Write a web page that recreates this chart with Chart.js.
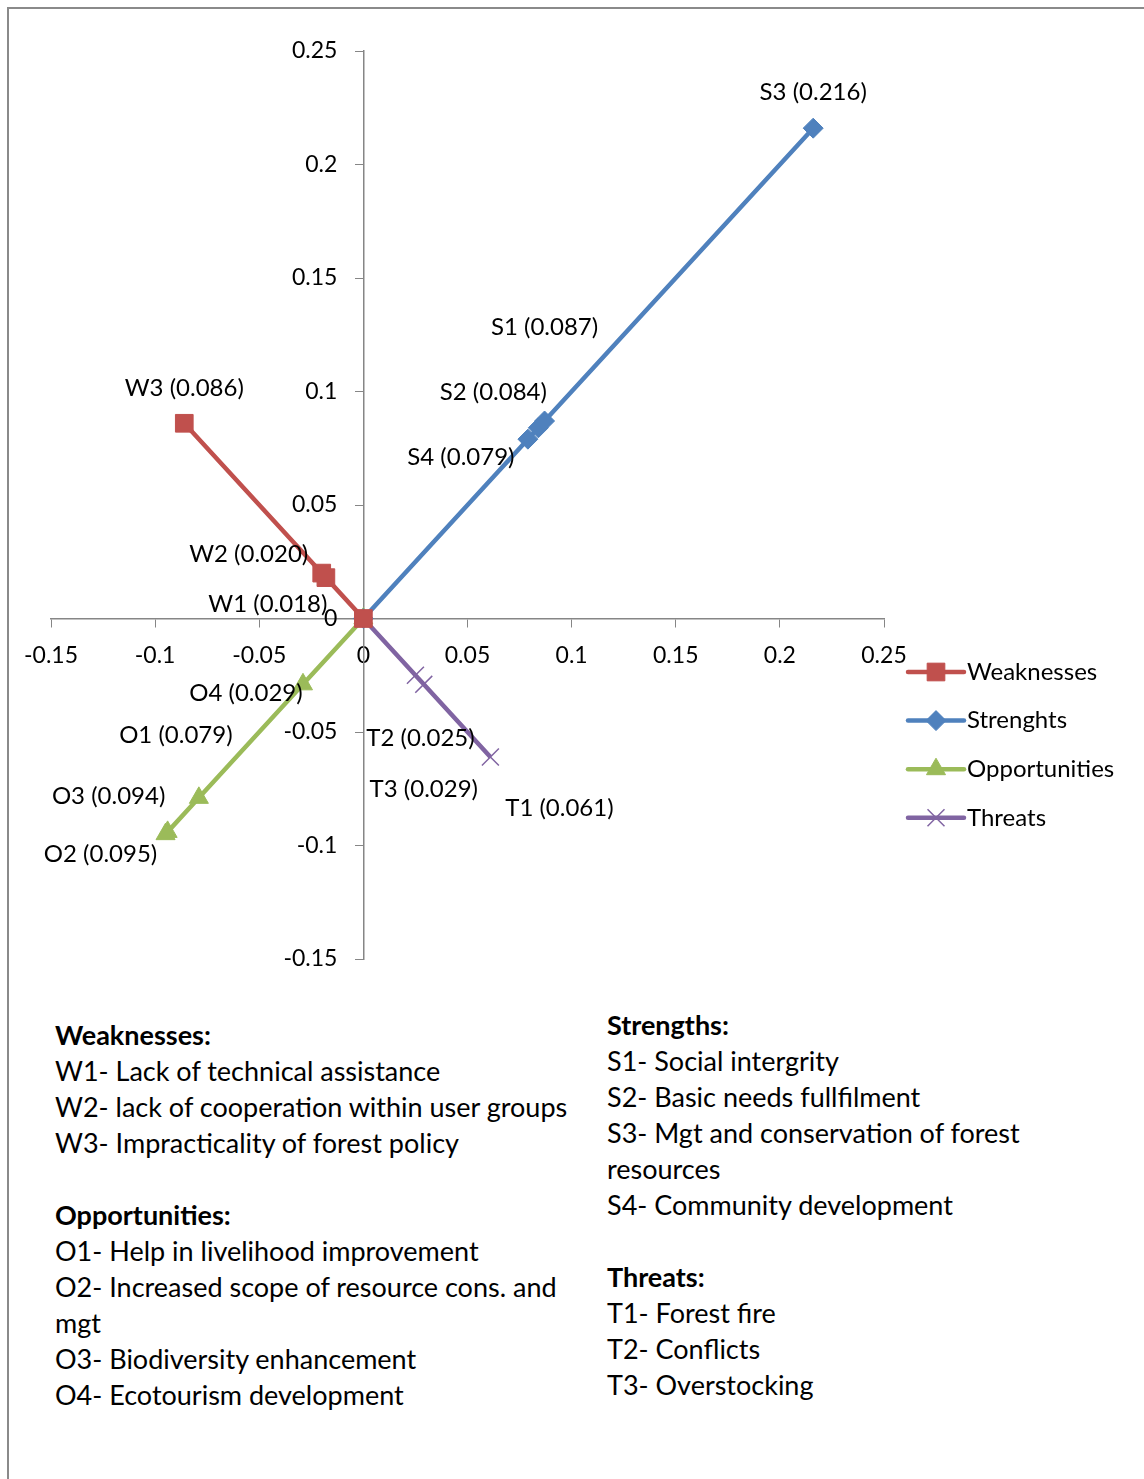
<!DOCTYPE html>
<html>
<head>
<meta charset="utf-8">
<script src="https://cdn.jsdelivr.net/npm/chart.js@4/dist/chart.umd.min.js"></script>
<style>
  html, body { margin: 0; padding: 0; background: #fff; }
  body { width: 1144px; height: 1479px; position: relative; overflow: hidden; font-family: Lato, "Open Sans", sans-serif; color: #000; }
  #frame { position: absolute; left: 7px; top: 7px; width: 1150px; height: 1480px; border-left: 2px solid #8a8a8a; border-top: 2px solid #8a8a8a; }
  #wrap { position: absolute; left: 0; top: 0; width: 1144px; height: 1000px; }
  .col { position: absolute; font-size: 27px; line-height: 36px; white-space: nowrap; }
  .col b { font-weight: bold; }
  .gap { height: 36px; }
</style>
</head>
<body>
<div id="frame"></div>
<div id="wrap"><canvas id="c" width="1144" height="1000"></canvas></div>

<div class="col" style="left:55px; top:1017px;">
  <b>Weaknesses:</b><br>
  W1- Lack of technical assistance<br>
  W2- lack of cooperation within user groups<br>
  W3- Impracticality of forest policy<br>
  <div class="gap"></div>
  <b>Opportunities:</b><br>
  O1- Help in livelihood improvement<br>
  O2- Increased scope of resource cons. and<br>
  mgt<br>
  O3- Biodiversity enhancement<br>
  O4- Ecotourism development
</div>

<div class="col" style="left:607px; top:1007px;">
  <b>Strengths:</b><br>
  S1- Social intergrity<br>
  S2- Basic needs fullfilment<br>
  S3- Mgt and conservation of forest<br>
  resources<br>
  S4- Community development<br>
  <div class="gap"></div>
  <b>Threats:</b><br>
  T1- Forest fire<br>
  T2- Conflicts<br>
  T3- Overstocking
</div>

<script>
// Factor scores per SWOT group (ordered outward from the origin)
const weaknessNames = ['W1', 'W2', 'W3'];
const weaknessValues = [0.018, 0.020, 0.086];

const strengthNames = ['S4', 'S2', 'S1', 'S3'];
const strengthValues = [0.079, 0.084, 0.087, 0.216];

const opportunityNames = ['O4', 'O1', 'O3', 'O2'];
const opportunityValues = [0.029, 0.079, 0.094, 0.095];

const threatNames = ['T2', 'T3', 'T1'];
const threatValues = [0.025, 0.029, 0.061];

const axisTicks = [-0.15, -0.1, -0.05, 0, 0.05, 0.1, 0.15, 0.2, 0.25];

// Label placement (pixel offsets from each marker)
const labelOffsets = {
  S3: [0, -36], S1: [0, -94], S2: [-45, -36], S4: [-67, 18],
  W3: [0, -35], W2: [-73, -19], W1: [-58, 27],
  O4: [-57, 9], O1: [-23, -63], O3: [-59, -36], O2: [-65, 20],
  T2: [5, 63], T3: [0, 105], T1: [69, 51]
};

// Each group sits in its own quadrant and starts at the origin
function buildSeries(names, values, sx, sy) {
  const pts = [{ x: 0, y: 0, name: null }];
  names.forEach((n, i) => pts.push({ x: sx * values[i], y: sy * values[i], name: n, v: values[i] }));
  return pts;
}

const FONT = 'Lato, "Open Sans", sans-serif';

const datasets = [
  { label: 'Weaknesses', data: buildSeries(weaknessNames, weaknessValues, -1, 1),
    borderColor: '#C0504D', backgroundColor: '#C0504D', pointStyle: 'rect', pointRadius: 12.5, pointBorderWidth: 1 },
  { label: 'Strenghts', data: buildSeries(strengthNames, strengthValues, 1, 1),
    borderColor: '#4F81BD', backgroundColor: '#4F81BD', pointStyle: 'rectRot', pointRadius: 10, pointBorderWidth: 1 },
  { label: 'Opportunities', data: buildSeries(opportunityNames, opportunityValues, -1, -1),
    borderColor: '#9BBB59', backgroundColor: '#9BBB59', pointStyle: 'triangle', pointRadius: 11, pointBorderWidth: 1 },
  { label: 'Threats', data: buildSeries(threatNames, threatValues, 1, -1),
    borderColor: '#8064A2', backgroundColor: '#8064A2', pointStyle: 'crossRot', pointRadius: 12, pointBorderWidth: 1.5 }
];
datasets.forEach(d => { d.showLine = true; d.borderWidth = 4.5; d.pointHoverRadius = d.pointRadius; });

// Value labels next to each marker
const valueLabels = {
  id: 'valueLabels',
  afterDatasetsDraw(chart) {
    const ctx = chart.ctx;
    ctx.save();
    ctx.font = '24px ' + FONT;
    ctx.fillStyle = '#000';
    ctx.textAlign = 'center';
    ctx.textBaseline = 'middle';
    chart.data.datasets.forEach((ds, di) => {
      const meta = chart.getDatasetMeta(di);
      ds.data.forEach((p, i) => {
        if (!p.name) return;
        const el = meta.data[i];
        const off = labelOffsets[p.name] || [0, -20];
        ctx.fillText(p.name + ' (' + p.v.toFixed(3) + ')', el.x + off[0], el.y + off[1]);
      });
    });
    ctx.restore();
  }
};

// Vertical-axis tick labels, set off to the left of the centred axis
const yTickLabels = {
  id: 'yTickLabels',
  afterDraw(chart) {
    const ctx = chart.ctx;
    const ys = chart.scales.y, xs = chart.scales.x;
    const axisX = xs.getPixelForValue(0);
    ctx.save();
    ctx.font = '23px ' + FONT;
    ctx.fillStyle = '#000';
    ctx.textAlign = 'right';
    ctx.textBaseline = 'middle';
    axisTicks.forEach(v => ctx.fillText(String(v), axisX - 26, ys.getPixelForValue(v)));
    ctx.restore();
  }
};

// Legend on the right, drawn with each series' own line and marker
const sideLegend = {
  id: 'sideLegend',
  afterDraw(chart) {
    const ctx = chart.ctx;
    const area = chart.chartArea;
    const x0 = area.right + 24, x1 = x0 + 56;
    const firstRow = 672, rowGap = 48.6;
    ctx.save();
    chart.data.datasets.forEach((ds, i) => {
      const y = firstRow + i * rowGap;
      ctx.strokeStyle = ds.borderColor;
      ctx.lineWidth = 4.5;
      ctx.lineCap = 'round';
      ctx.beginPath(); ctx.moveTo(x0, y); ctx.lineTo(x1, y); ctx.stroke();
      ctx.fillStyle = ds.backgroundColor;
      ctx.lineWidth = ds.pointBorderWidth;
      ctx.lineCap = 'butt';
      Chart.helpers.drawPoint(ctx, { pointStyle: ds.pointStyle, radius: ds.pointRadius, rotation: 0, borderWidth: ds.pointBorderWidth }, (x0 + x1) / 2, y);
      ctx.fillStyle = '#000';
      ctx.font = '24px ' + FONT;
      ctx.textAlign = 'left';
      ctx.textBaseline = 'middle';
      ctx.fillText(ds.label, x1 + 3, y);
    });
    ctx.restore();
  }
};

const tickFont = { family: FONT, size: 23 };
const axisColor = '#868686';

new Chart(document.getElementById('c'), {
  type: 'scatter',
  data: { datasets },
  options: {
    responsive: false,
    animation: false,
    layout: { padding: { left: 51, top: 51, right: 260, bottom: 41 } },
    plugins: { legend: { display: false }, tooltip: { enabled: false } },
    scales: {
      x: {
        type: 'linear', min: -0.15, max: 0.25,
        position: { y: 0 },
        afterBuildTicks: s => { s.ticks = axisTicks.map(v => ({ value: v })); },
        ticks: { font: tickFont, color: '#000', padding: 15, maxRotation: 0, callback: v => String(v) },
        grid: { drawOnChartArea: false, drawTicks: true, tickLength: 8, color: axisColor },
        border: { color: axisColor, width: 1.5 }
      },
      y: {
        type: 'linear', min: -0.15, max: 0.25,
        position: { x: 0 },
        afterBuildTicks: s => { s.ticks = axisTicks.map(v => ({ value: v })); },
        ticks: { display: false },
        grid: { drawOnChartArea: false, drawTicks: true, tickLength: 8, color: axisColor },
        border: { color: axisColor, width: 1.5 }
      }
    }
  },
  plugins: [valueLabels, yTickLabels, sideLegend]
});
</script>
</body>
</html>
